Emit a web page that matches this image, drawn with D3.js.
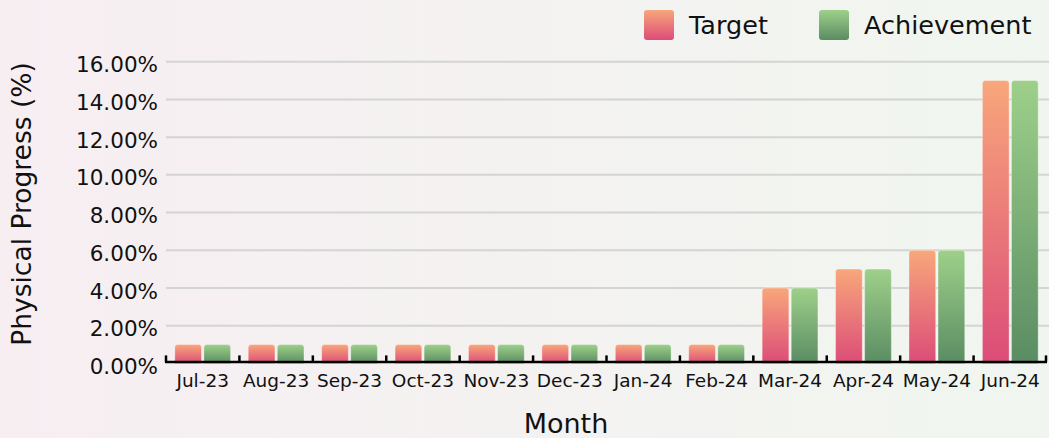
<!DOCTYPE html>
<html>
<head>
<meta charset="utf-8">
<script src="https://cdn.jsdelivr.net/npm/d3@7"></script>
<style>
  html, body { margin: 0; padding: 0; }
  body { width: 1049px; height: 438px; overflow: hidden; }
  text { font-family: "DejaVu Sans", "Open Sans", sans-serif; fill: #111; }
</style>
</head>
<body>
<svg id="chart" width="1049" height="438"></svg>
<script>
// Monthly physical progress, in percent
const months = ["Jul-23", "Aug-23", "Sep-23", "Oct-23", "Nov-23", "Dec-23",
                "Jan-24", "Feb-24", "Mar-24", "Apr-24", "May-24", "Jun-24"];
const target      = [1, 1, 1, 1, 1, 1, 1, 1, 4, 5, 6, 15];
const achievement = [1, 1, 1, 1, 1, 1, 1, 1, 4, 5, 6, 15];
const seriesNames = ["Target", "Achievement"];
const yTicks = [0, 2, 4, 6, 8, 10, 12, 14, 16];

const W = 1049, H = 438;
const margin = { left: 166, right: 2, top: 61.7, bottom: 74.6 };

const svg = d3.select("#chart");
const defs = svg.append("defs");

// page background: soft pink on the left fading to soft green on the right
const bg = defs.append("linearGradient").attr("id", "bg")
  .attr("x1", 0).attr("x2", 1).attr("y1", 0).attr("y2", 0);
bg.append("stop").attr("offset", 0).attr("stop-color", "#f7eef2");
bg.append("stop").attr("offset", 1).attr("stop-color", "#f0f6ef");
svg.append("rect").attr("width", W).attr("height", H).attr("fill", "url(#bg)");

// vertical bar fills
const fills = [
  { id: "gTarget", top: "#f8a77b", bottom: "#dc4c78" },
  { id: "gAch",    top: "#9ed08a", bottom: "#5a8c63" }
];
fills.forEach(f => {
  const g = defs.append("linearGradient").attr("id", f.id)
    .attr("x1", 0).attr("x2", 0).attr("y1", 0).attr("y2", 1);
  g.append("stop").attr("offset", 0).attr("stop-color", f.top);
  g.append("stop").attr("offset", 1).attr("stop-color", f.bottom);
});

const x = d3.scaleBand().domain(months)
  .range([margin.left, W - margin.right])
  .paddingInner(0.24).paddingOuter(0.12);
const xs = d3.scaleBand().domain(seriesNames).range([0, x.bandwidth()]).paddingInner(0.08);
const y = d3.scaleLinear().domain([0, 16]).range([H - margin.bottom, margin.top]);

// horizontal grid
svg.append("g").selectAll("line").data(yTicks.slice(1)).join("line")
  .attr("x1", margin.left).attr("x2", W)
  .attr("y1", d => y(d)).attr("y2", d => y(d))
  .attr("stroke", "#d4d4d4").attr("stroke-width", 2);

// y axis labels
const yAxis = d3.axisLeft(y).tickValues(yTicks)
  .tickFormat(d => d3.format(".2f")(d) + "%").tickSize(0).tickPadding(8);
const ya = svg.append("g").attr("transform", `translate(${margin.left},0)`).call(yAxis);
ya.select(".domain").remove();
ya.selectAll("text").style("font-size", "21.5px").attr("dy", "0.47em")
  .style("font-family", "'DejaVu Sans', sans-serif");

// bars
const data = months.map((m, i) => ({ month: m, values: [target[i], achievement[i]] }));
const groups = svg.append("g").selectAll("g").data(data).join("g")
  .attr("transform", d => `translate(${x(d.month)},0)`);

function topRounded(x0, y0, w, h, r) {
  r = Math.min(r, w / 2, h);
  return `M${x0},${y0 + h}V${y0 + r}Q${x0},${y0} ${x0 + r},${y0}` +
         `H${x0 + w - r}Q${x0 + w},${y0} ${x0 + w},${y0 + r}V${y0 + h}Z`;
}

groups.selectAll("path").data(d => d.values.map((v, k) => ({ v, k })))
  .join("path")
  .attr("d", d => topRounded(xs(seriesNames[d.k]), y(d.v), xs.bandwidth(), y(0) - y(d.v), 3))
  .attr("fill", d => `url(#${fills[d.k].id})`)
  .attr("stroke", "rgba(255,255,255,0.35)").attr("stroke-width", 1);

// x axis: baseline with short upward ticks at band edges
const xa = svg.append("g");
xa.append("line")
  .attr("x1", margin.left - 1).attr("x2", W - margin.right)
  .attr("y1", y(0) - 1.5).attr("y2", y(0) - 1.5)
  .attr("stroke", "#000").attr("stroke-width", 2.5);
const edges = months.map(m => x(m) - x.step() * x.paddingInner() / 2)
  .concat([W - margin.right - 1]);
edges[0] = margin.left;
xa.selectAll(".tk").data(edges).join("line").attr("class", "tk")
  .attr("x1", d => d).attr("x2", d => d)
  .attr("y1", y(0) - 8).attr("y2", y(0) - 1.5)
  .attr("stroke", "#000").attr("stroke-width", 2.5);
xa.selectAll(".lbl").data(months).join("text").attr("class", "lbl")
  .attr("x", d => x(d) + x.bandwidth() / 2).attr("y", 387)
  .attr("text-anchor", "middle").style("font-size", "18.5px").text(d => d);

// axis titles
svg.append("text").attr("x", 566).attr("y", 433)
  .attr("text-anchor", "middle").style("font-size", "27px").text("Month");
svg.append("text").attr("transform", `translate(31,204) rotate(-90)`)
  .attr("text-anchor", "middle").style("font-size", "26.5px").text("Physical Progress (%)");

// legend
const legend = svg.append("g");
const legendItems = [
  { name: "Target", x: 644, tx: 689 },
  { name: "Achievement", x: 819, tx: 864 }
];
legendItems.forEach((it, k) => {
  legend.append("rect").attr("x", it.x).attr("y", 10).attr("width", 30).attr("height", 30)
    .attr("rx", 3).attr("fill", `url(#${fills[k].id})`);
  legend.append("text").attr("x", it.tx).attr("y", 34).style("font-size", "25.5px").text(it.name);
});
</script>
</body>
</html>
